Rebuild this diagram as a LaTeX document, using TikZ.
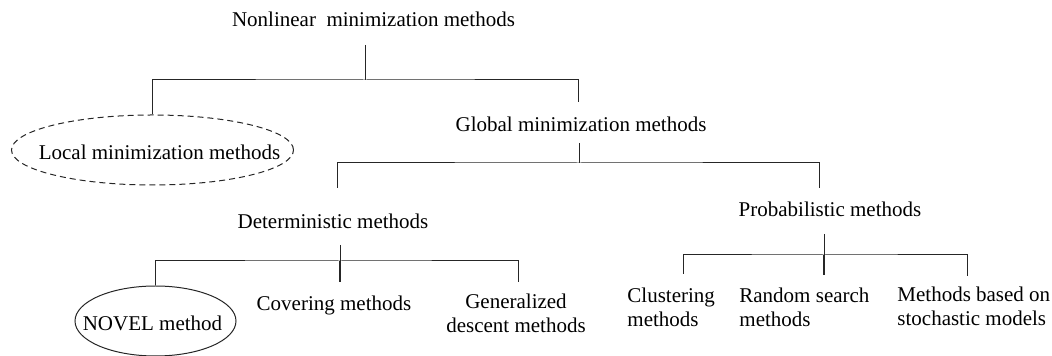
\documentclass[tikz,border=0pt]{standalone}
\usepackage{fontspec}
\setmainfont{Liberation Serif}
\usetikzlibrary{shapes.geometric}
\tikzset{
	tnode/.style={font=\fontsize{10.5}{12}\selectfont, inner sep=0pt},
	leaf/.style={tnode, align=left, anchor=base west},
	oval/.style={draw=black!85, ellipse, inner sep=0pt, line width=0.5pt},
	tline/.style={line width=0.5pt, draw=black!85}
}

\begin{document}
\begin{tikzpicture}[x=0.5pt, y=-0.5pt]
	\useasboundingbox (0,0) rectangle (1052,356);
	\node[tnode, anchor=base] (nonlin) at (373.5,27) {Nonlinear\ \ minimization methods};
	\node[oval, dash pattern=on 3pt off 2pt, minimum width=141pt, minimum height=35pt] (localrim) at (152.5,150) {};
	\node[tnode, anchor=base] (local) at (159.5,160) {Local minimization methods};
	\node[tnode, anchor=base] (global) at (581,132) {Global minimization methods};
	\node[tnode, anchor=base] (determ) at (333,229) {Deterministic methods};
	\node[tnode, anchor=base] (probab) at (830,217) {Probabilistic methods};
	\node[oval, minimum width=80.5pt, minimum height=35pt] (novelrim) at (155.5,321) {};
	\node[tnode, anchor=base] (novel) at (152.5,331) {NOVEL method};
	\node[tnode, anchor=base] (cover) at (334,311) {Covering methods};
	\node[tnode, align=center, anchor=base] (gendesc) at (516,333) {Generalized\\descent methods};
	\node[leaf] (cluster) at (627,327) {Clustering\\methods};
	\node[leaf] (random) at (739,327) {Random search\\methods};
	\node[leaf] (stoch) at (897,326) {Methods based on\\stochastic models};

	\coordinate (r0) at (365,45);
	\coordinate (r1) at (365,80);
	\coordinate (g0) at (578,102);
	\coordinate (g1) at (579,143);
	\coordinate (g2) at (579,163);
	\coordinate (g3) at (337,188);
	\coordinate (g4) at (819,188);
	\coordinate (d1) at (340,245);
	\coordinate (d2) at (340,261);
	\coordinate (d3) at (340,282);
	\coordinate (d4) at (518,282);
	\coordinate (q1) at (824,234);
	\coordinate (q2) at (824,255);
	\coordinate (q3) at (824,275);
	\coordinate (q4) at (683,274);
	\coordinate (q5) at (967,276);

	\draw[tline] (r0) -- (r1);
	\draw[tline] (localrim.north) |- (r1) -| (g0);
	\draw[tline] (g1) -- (g2);
	\draw[tline] (g3) |- (g2) -| (g4);
	\draw[tline] (d1) -- (d2);
	\draw[tline, line width=0.9pt] (d2) -- (d3);
	\draw[tline] (novelrim.north) |- (d2) -| (d4);
	\draw[tline] (q1) -- (q2);
	\draw[tline, line width=0.9pt] (q2) -- (q3);
	\draw[tline] (q4) |- (q2) -| (q5);
\end{tikzpicture}
\end{document}
